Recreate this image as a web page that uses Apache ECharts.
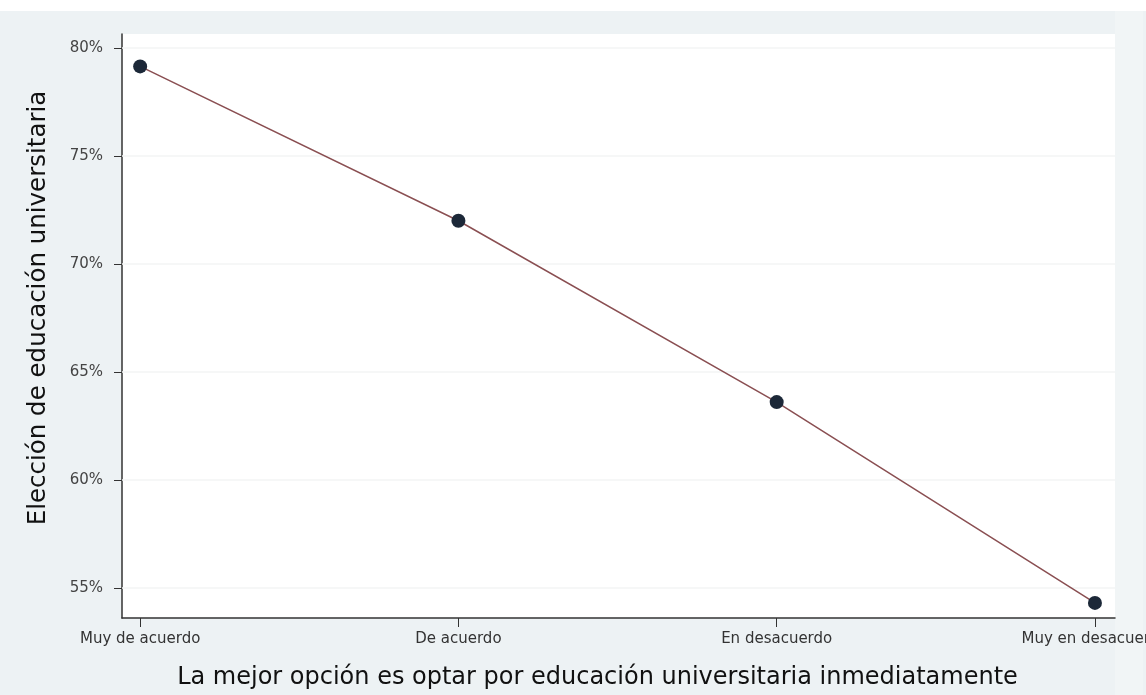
<!DOCTYPE html>
<html>
<head>
<meta charset="utf-8">
<script src="https://cdn.jsdelivr.net/npm/echarts@6/dist/echarts.min.js"></script>
<style>
  html, body { margin: 0; padding: 0; background: #edf2f4; }
  #chart { width: 1146px; height: 695px; }
</style>
</head>
<body>
<div id="chart"></div>
<script>
// categorias del eje x
const categories = ['Muy de acuerdo', 'De acuerdo', 'En desacuerdo', 'Muy en desacuerdo']
// porcentaje que elige educacion universitaria
const values = [79.15, 72.0, 63.6, 54.3]
// marcas del eje y
const yTicks = [55, 60, 65, 70, 75, 80]
const xTicks = [0, 1, 2, 3]

let myChart = echarts.init(document.getElementById('chart'))

myChart.setOption({
  backgroundColor: '#edf2f4',
  animation: false,
  textStyle: { fontFamily: 'DejaVu Sans, Verdana, sans-serif' },
  graphic: [
    // franja blanca superior
    { type: 'rect', shape: { x: 0, y: 0, width: 1146, height: 11 }, style: { fill: '#ffffff' }, z: -1 },
    // franja clara a la derecha
    { type: 'rect', shape: { x: 1115, y: 11, width: 28, height: 684 }, style: { fill: '#f1f5f6' }, z: -1 }
  ],
  grid: {
    left: 122,
    right: 31,
    top: 34,
    bottom: 77,
    outerBoundsMode: 'none',
    show: true,
    backgroundColor: '#ffffff',
    borderWidth: 0
  },
  xAxis: {
    type: 'value',
    min: -0.057,
    max: 3.063,
    name: 'La mejor opción es optar por educación universitaria inmediatamente',
    nameLocation: 'middle',
    nameGap: 48,
    nameTextStyle: { fontSize: 24, color: '#111', padding: [0, 42, 0, 0] },
    axisLine: { show: true, onZero: false, lineStyle: { color: '#333', width: 1.5 } },
    axisTick: { show: true, length: 9, customValues: xTicks, lineStyle: { color: '#333' } },
    axisLabel: {
      customValues: xTicks,
      margin: 14,
      fontSize: 15,
      color: '#333',
      hideOverlap: false,
      formatter: v => categories[Math.round(v)]
    },
    splitLine: { show: false }
  },
  yAxis: {
    type: 'value',
    min: 53.6,
    max: 80.65,
    name: 'Elección de educación universitaria',
    nameLocation: 'middle',
    nameGap: 71,
    nameTextStyle: { fontSize: 24.5, color: '#111', padding: [0, 0, 0, 36] },
    axisLine: { show: true, onZero: false, lineStyle: { color: '#333', width: 1.5 } },
    axisTick: { show: true, length: 8, customValues: yTicks, lineStyle: { color: '#333' } },
    axisLabel: {
      customValues: yTicks,
      margin: 19,
      fontSize: 15,
      color: '#444',
      formatter: v => v + '%'
    },
    splitLine: { show: false }
  },
  series: [
    {
      // lineas de cuadricula muy tenues, debajo de la serie
      type: 'line',
      z: 1,
      data: [],
      markLine: {
        silent: true,
        z: 1,
        symbol: 'none',
        label: { show: false },
        lineStyle: { color: '#f3f4f4', width: 1.5, type: 'solid' },
        data: yTicks.map(t => ({ yAxis: t }))
      }
    },
    {
      type: 'line',
      z: 3,
      data: values.map((v, i) => [i, v]),
      symbol: 'circle',
      symbolSize: 14,
      itemStyle: { color: '#1c2838' },
      lineStyle: { color: '#8a4f52', width: 1.5 }
    }
  ]
})
</script>
</body>
</html>
